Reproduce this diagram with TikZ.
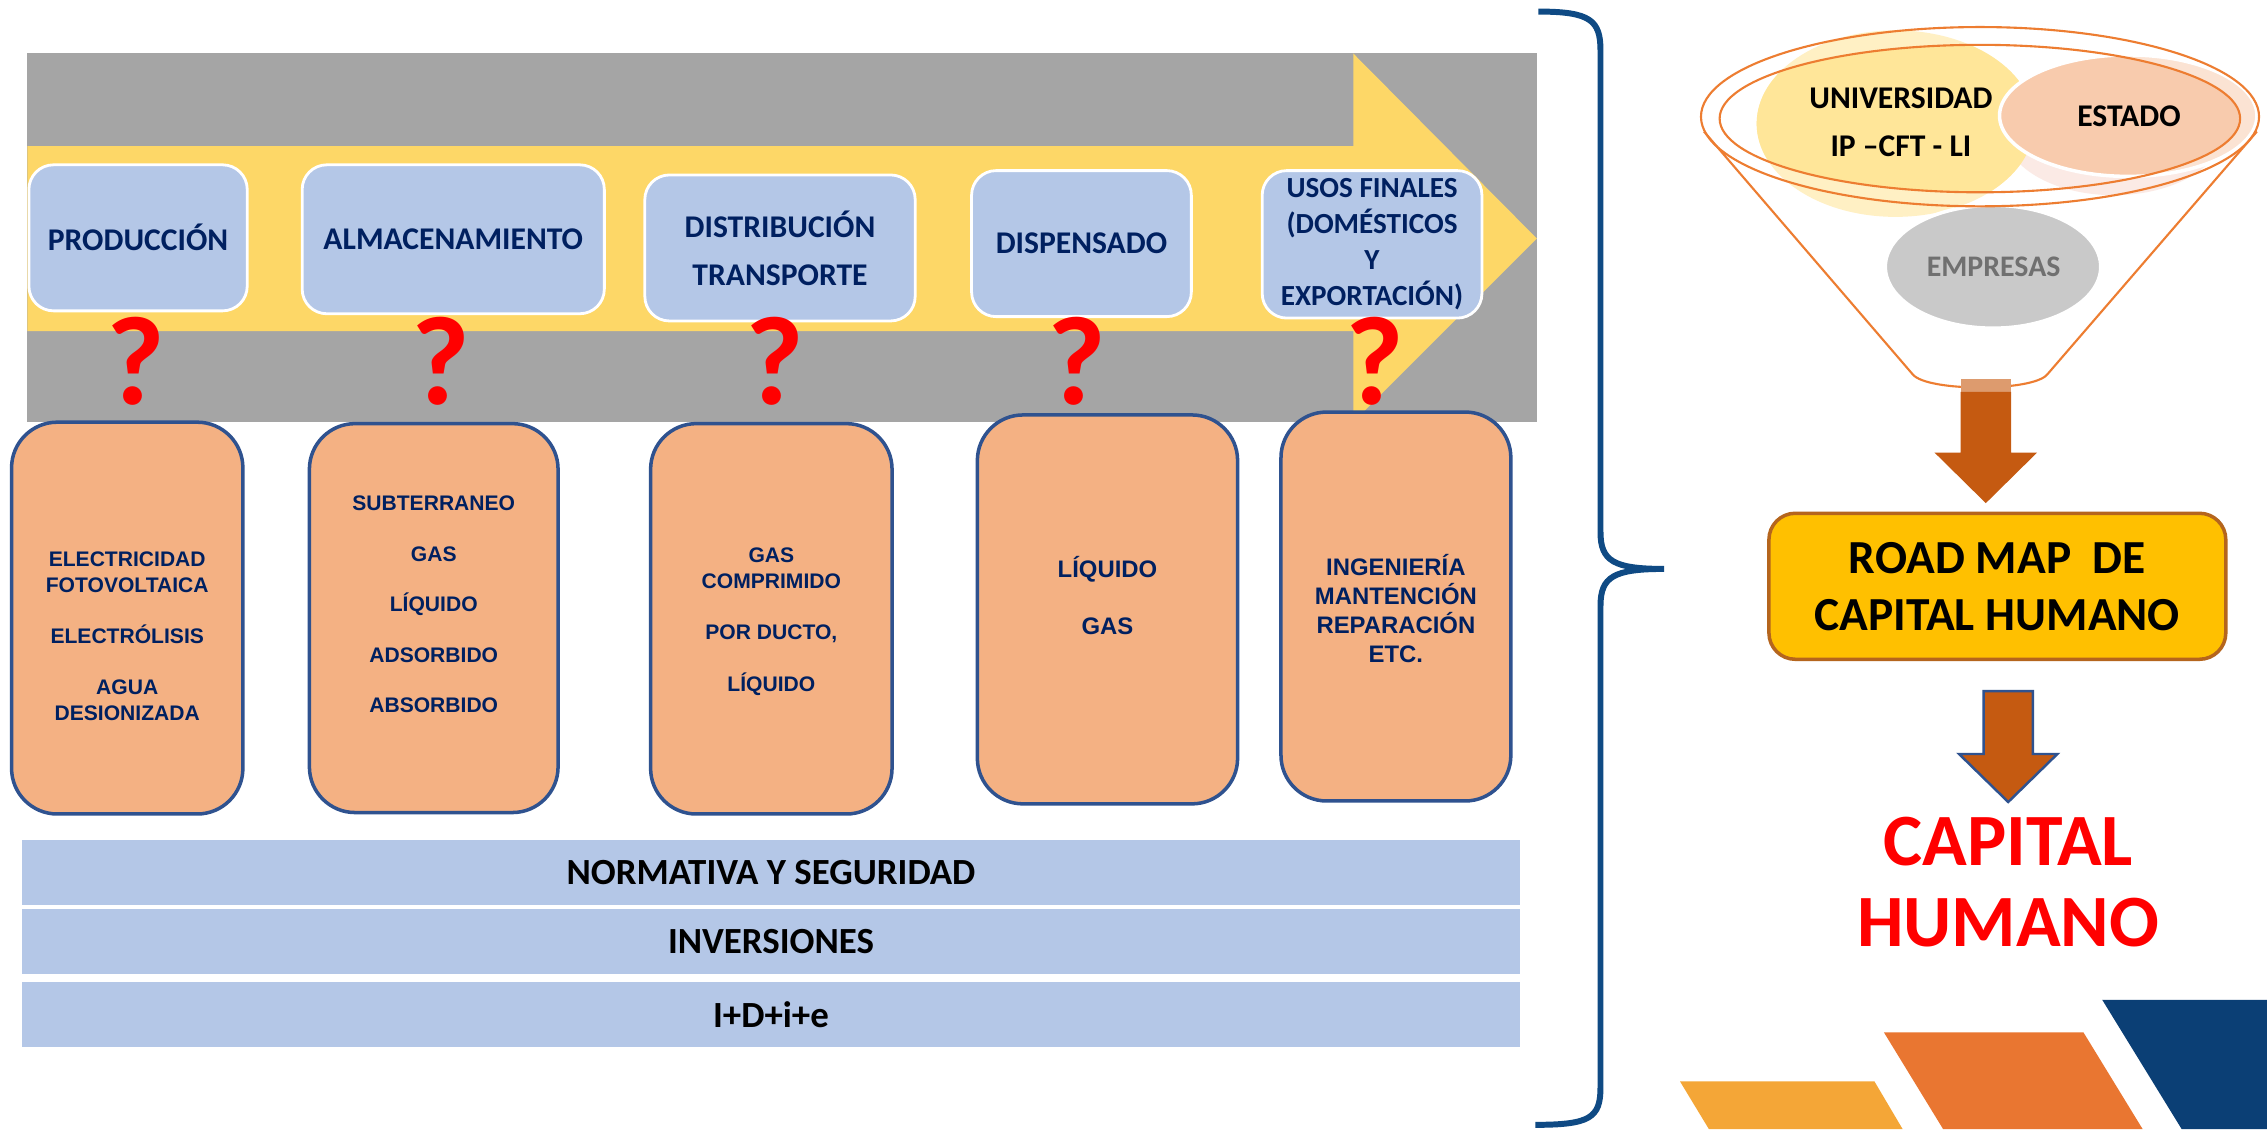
\documentclass[tikz,border=0pt]{standalone}
\usepackage{fontspec}
\setmainfont{Carlito}
\newfontfamily\arialf{Liberation Sans}
\usetikzlibrary{fit,shapes.geometric}
\definecolor{gbar}{HTML}{A5A5A5}
\definecolor{yarr}{HTML}{FDD767}
\definecolor{lblue}{HTML}{B4C7E7}
\definecolor{navy}{HTML}{002060}
\definecolor{peach}{HTML}{F4B183}
\definecolor{obord}{HTML}{2F528F}
\definecolor{qred}{HTML}{FF0000}
\definecolor{bracec}{HTML}{0F4A84}
\definecolor{funl}{HTML}{ED7D31}
\definecolor{uniy}{HTML}{FFE699}
\definecolor{uniyl}{HTML}{FFF0C4}
\definecolor{estp}{HTML}{F8CBAD}
\definecolor{estl}{HTML}{FBE3D3}
\definecolor{pinkf}{HTML}{FBEAE5}
\definecolor{empg}{HTML}{C9C9C9}
\definecolor{empt}{HTML}{707070}
\definecolor{brn}{HTML}{C55A11}
\definecolor{brnl}{HTML}{DD9B6E}
\definecolor{roady}{HTML}{FFC000}
\definecolor{roadb}{HTML}{B5651D}
\definecolor{decoa}{HTML}{F4A637}
\definecolor{decob}{HTML}{E97631}
\definecolor{decoc}{HTML}{0B3F75}
\begin{document}
\begin{tikzpicture}[x=0.01445791cm, y=-0.01445791cm,
  topbox/.style={draw=white, line width=0.8pt, fill=lblue, rounded corners=7pt, inner sep=0pt},
  toptxt/.style={font=\bfseries\fontsize{9}{13.6}\selectfont, text=navy, align=center, inner sep=0pt},
  qmark/.style={font=\bfseries\fontsize{36}{36}\selectfont, text=qred, inner sep=0pt},
  obox/.style={fill=peach, draw=obord, line width=1pt, rounded corners=13pt, inner sep=0pt},
  otxt/.style={font=\arialf\bfseries\fontsize{6}{7.3}\selectfont, text=navy, align=center, inner sep=0pt},
  otxtb/.style={font=\arialf\bfseries\fontsize{6.8}{8.2}\selectfont, text=navy, align=center, inner sep=0pt},
  bandbox/.style={fill=lblue, inner sep=0pt},
  bandtxt/.style={font=\bfseries\fontsize{10.5}{12}\selectfont, text=black, inner sep=0pt},
  rtxt/.style={font=\bfseries\fontsize{9}{13.7}\selectfont, text=black, align=center, inner sep=0pt}
]
\fill[white] (0,0) rectangle (1568,781);
\useasboundingbox (0,0) rectangle (1568,781);

% grey band and yellow arrow
\fill[gbar] (19,37) rectangle (1063,292);
\fill[yarr] (19,101) -- (936,101) -- (936,37) -- (1063,165) -- (936,292) -- (936,229) -- (19,229) -- cycle;

% top stage boxes
\node[topbox, fit={(20,114) (171,215)}] (b1) {};
\node[topbox, fit={(209,114) (418,217)}] (b2) {};
\node[topbox, fit={(446,121) (633,222)}] (b3) {};
\node[topbox, fit={(672,118) (824,219)}] (b4) {};
\node[topbox, fit={(873,118) (1025,220)}] (b5) {};
\node[toptxt] (t1) at (b1.center) {PRODUCCIÓN};
\node[toptxt] (t2) at (b2.center) {ALMACENAMIENTO};
\node[toptxt] (t3) at (b3.center) {DISTRIBUCIÓN\\TRANSPORTE};
\node[toptxt] (t4) at (b4.center) {DISPENSADO};
\node[toptxt, font=\bfseries\fontsize{8.3}{10.3}\selectfont] (t5) at (b5.center) {USOS FINALES\\(DOMÉSTICOS\\Y\\EXPORTACIÓN)};

% question marks
\node[qmark] (q1) at (94,250) {?};
\node[qmark] (q2) at (305,250) {?};
\node[qmark] (q3) at (536,250) {?};
\node[qmark] (q4) at (745,250) {?};
\node[qmark] (q5) at (951,250) {?};

% orange boxes
\node[obox, fit={(8,292) (168,563)}] (o1) {};
\node[obox, fit={(214,293) (386,562)}] (o2) {};
\node[obox, fit={(450,293) (617,563)}] (o3) {};
\node[obox, fit={(676,287) (856,556)}] (o4) {};
\node[obox, fit={(886,285) (1045,554)}] (o5) {};
\node[otxt] (ot1) at (88,440) {ELECTRICIDAD\\FOTOVOLTAICA\\[7.3pt]ELECTRÓLISIS\\[7.3pt]AGUA\\DESIONIZADA};
\node[otxt, font=\arialf\bfseries\fontsize{6}{14.4}\selectfont] (ot2) at (300,418) {SUBTERRANEO\\GAS\\LÍQUIDO\\ADSORBIDO\\ABSORBIDO};
\node[otxt] (ot3) at (533.5,430) {GAS\\COMPRIMIDO\\[7.3pt]POR DUCTO,\\[7.3pt]LÍQUIDO};
\node[otxtb, font=\arialf\bfseries\fontsize{6.8}{16.3}\selectfont] (ot4) at (766,412) {LÍQUIDO\\GAS};
\node[otxtb] (ot5) at (965.5,421) {INGENIERÍA\\MANTENCIÓN\\REPARACIÓN\\ETC.};

% bottom bands
\node[bandbox, fit={(15.5,581) (1051,626)}] (n1) {};
\node[bandbox, fit={(15.5,629) (1051,674)}] (n2) {};
\node[bandbox, fit={(15.5,679.5) (1051,724)}] (n3) {};
\node[bandtxt] (nt1) at (n1.center) {NORMATIVA Y SEGURIDAD};
\node[bandtxt] (nt2) at (n2.center) {INVERSIONES};
\node[bandtxt] (nt3) at (n3.center) {I+D+i+e};

% brace
\draw[bracec, line width=1.7pt, line join=miter]
  (1064,8) .. controls (1100,8) and (1107,14) .. (1107,35) -- (1107,368)
  .. controls (1107,388) and (1116,393.5) .. (1151,393.5)
  .. controls (1116,393.5) and (1107,399) .. (1107,419) -- (1107,752)
  .. controls (1107,773) and (1100,778) .. (1062,778);

% funnel contents
\fill[pinkf] (1462,90) ellipse [x radius=76, y radius=45];
\fill[uniyl] (1311,85.5) ellipse [x radius=96, y radius=64.5];
\fill[estl] (1472,80) ellipse [x radius=89, y radius=42];
\begin{scope}
  \clip (1369.4,82) ellipse [x radius=180, y radius=51];
  \fill[uniy] (1311,85.5) ellipse [x radius=96, y radius=64.5];
  \fill[estp] (1472,80) ellipse [x radius=89, y radius=42];
\end{scope}
\draw[white, line width=1pt] (1472,80) ellipse [x radius=89, y radius=42];
\filldraw[fill=empg, draw=white, line width=1pt] (1378.5,184.5) ellipse [x radius=74.5, y radius=42.5];
\draw[funl, line width=0.6pt] (1369.5,80.7) ellipse [x radius=193, y radius=62];
\draw[funl, line width=0.6pt] (1369.4,82) ellipse [x radius=180, y radius=51];
\draw[funl, line width=0.6pt] (1178.6,91) -- (1323,259) .. controls (1333,271) and (1406,271) .. (1416,259) -- (1561,91);
\node[rtxt] (uni) at (1314.8,84.7) {UNIVERSIDAD\\IP –CFT - LI};
\node[rtxt] (est) at (1472.5,80.7) {ESTADO};
\node[rtxt, text=empt, font=\bfseries\fontsize{8.5}{10}\selectfont] (emp) at (1378.9,184.5) {EMPRESAS};

% arrow 1
\fill[brnl] (1356,262) rectangle (1391,271);
\fill[brn] (1356,271) -- (1391,271) -- (1391,313) -- (1409,313) -- (1373.5,348) -- (1338,313) -- (1356,313) -- cycle;

% road map box
\node[fill=roady, draw=roadb, line width=1pt, rounded corners=7.5pt, inner sep=0pt, fit={(1223.5,355) (1539.5,456)}] (road) {};
\node[font=\bfseries\fontsize{13.5}{16.2}\selectfont, align=center, inner sep=0pt] (roadt) at (road.center) {ROAD MAP\ \ DE\\CAPITAL HUMANO};

% arrow 2
\filldraw[fill=brn, draw=obord, line width=0.7pt] (1372,478) -- (1406,478) -- (1406,521.5) -- (1423,521.5) -- (1389,554.7) -- (1355,521.5) -- (1372,521.5) -- cycle;

% capital humano
\node[font=\bfseries\fontsize{21}{22.9}\selectfont, text=qred, align=center, inner sep=0pt] (cap) at (1389,610) {CAPITAL\\HUMANO};

% decorative parallelograms
\fill[decoa] (1162,748) -- (1296.5,748) -- (1316,781) -- (1182,781) -- cycle;
\fill[decob] (1303,714) -- (1441,714) -- (1482,781) -- (1344,781) -- cycle;
\fill[decoc] (1454,691.5) -- (1568,691.5) -- (1568,781) -- (1509,781) -- cycle;
\end{tikzpicture}
\end{document}
